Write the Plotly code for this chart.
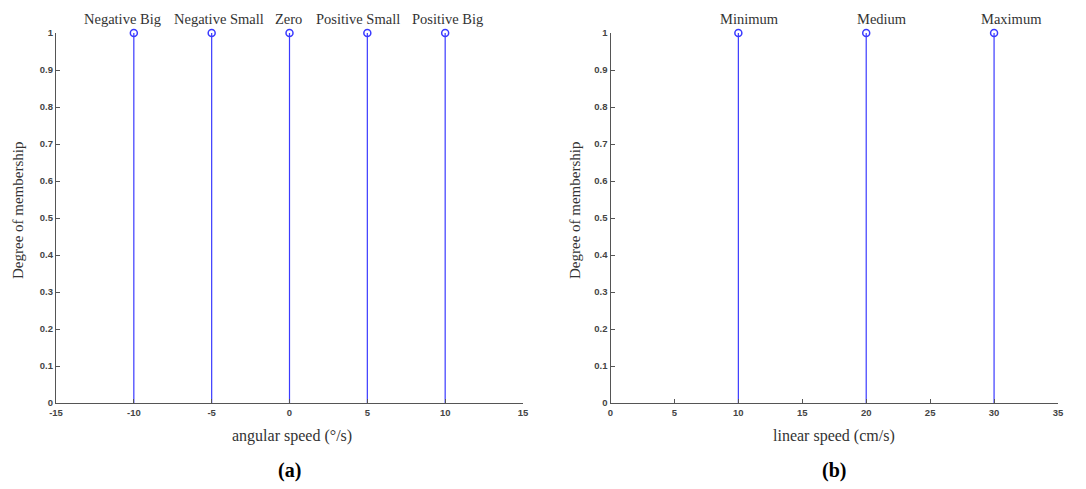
import plotly.graph_objects as go

# Membership singletons for the two fuzzy inputs
angular_sets = ["Negative Big", "Negative Small", "Zero", "Positive Small", "Positive Big"]
angular_centers = [-10, -5, 0, 5, 10]
angular_degree = [1, 1, 1, 1, 1]

linear_sets = ["Minimum", "Medium", "Maximum"]
linear_centers = [10, 20, 30]
linear_degree = [1, 1, 1]

y_ticks = [0, 0.1, 0.2, 0.3, 0.4, 0.5, 0.6, 0.7, 0.8, 0.9, 1]
y_tick_text = ["0", "0.1", "0.2", "0.3", "0.4", "0.5", "0.6", "0.7", "0.8", "0.9", "1"]
angular_ticks = [-15, -10, -5, 0, 5, 10, 15]
angular_tick_text = ["-15", "-10", "-5", "0", "5", "10", "15"]
linear_ticks = [0, 5, 10, 15, 20, 25, 30, 35]

# horizontal nudges (px) for the set names so neighbours do not collide
angular_label_shift = [-11, 7.5, -1, -9, 2]
linear_label_shift = [11, 15.5, 17]

W, H = 1086, 489
STEM = "#3a3aff"
AXIS = "#555555"
TICKFONT = dict(family="Liberation Sans", size=9.5, color="#444444", weight="bold")
SERIF = "Liberation Serif"


def stem_traces(xs, ys, xa, ya):
    lx, ly = [], []
    for x, y in zip(xs, ys):
        lx += [x, x, None]
        ly += [0, y, None]
    line = go.Scatter(x=lx, y=ly, mode="lines", xaxis=xa, yaxis=ya,
                      line=dict(color=STEM, width=1.2), hoverinfo="skip",
                      showlegend=False)
    heads = go.Scatter(x=xs, y=ys, mode="markers", xaxis=xa, yaxis=ya,
                       marker=dict(symbol="circle-open", size=7,
                                   color=STEM, line=dict(width=1.5, color=STEM)),
                       showlegend=False, cliponaxis=False)
    return [line, heads]


fig = go.Figure()
for t in stem_traces(angular_centers, angular_degree, "x", "y"):
    fig.add_trace(t)
for t in stem_traces(linear_centers, linear_degree, "x2", "y2"):
    fig.add_trace(t)

label_font = dict(family=SERIF, size=14.5, color="#333333")
for name, x, y, dx in zip(angular_sets, angular_centers, angular_degree, angular_label_shift):
    fig.add_annotation(x=x, y=y, xref="x", yref="y", text=name, showarrow=False,
                       xanchor="center", yanchor="bottom", xshift=dx, yshift=4,
                       font=label_font)
for name, x, y, dx in zip(linear_sets, linear_centers, linear_degree, linear_label_shift):
    fig.add_annotation(x=x, y=y, xref="x2", yref="y2", text=name, showarrow=False,
                       xanchor="center", yanchor="bottom", xshift=dx, yshift=4,
                       font=label_font)

y_bot = (H - 403) / H
y_top = (H - 33) / H
dom_a = [56 / W, 523 / W]
dom_b = [610.5 / W, 1058 / W]

axis_common = dict(showgrid=False, zeroline=False, showline=True,
                   linecolor=AXIS, linewidth=1.2, ticks="inside", ticklen=4,
                   tickcolor=AXIS, tickfont=TICKFONT, mirror=False,
                   automargin=False)

fig.update_layout(
    width=W, height=H,
    margin=dict(l=0, r=0, t=0, b=0),
    paper_bgcolor="white", plot_bgcolor="white",
    xaxis=dict(domain=dom_a, range=[-15, 15], tickvals=angular_ticks,
               ticktext=angular_tick_text, anchor="y", **axis_common),
    yaxis=dict(domain=[y_bot, y_top], range=[0, 1], tickvals=y_ticks,
               ticktext=y_tick_text, anchor="x", **axis_common),
    xaxis2=dict(domain=dom_b, range=[0, 35], tickvals=linear_ticks,
                anchor="y2", **axis_common),
    yaxis2=dict(domain=[y_bot, y_top], range=[0, 1], tickvals=y_ticks,
                ticktext=y_tick_text, anchor="x2", **axis_common),
)

title_font = dict(family=SERIF, size=16, color="#333333")
ytitle_font = dict(family=SERIF, size=15, color="#333333")
notes = [
    dict(x=292 / W, y=1 - 436 / H, text="angular speed (°/s)", font=title_font),
    dict(x=834 / W, y=1 - 436 / H, text="linear speed (cm/s)", font=title_font),
    dict(x=18 / W, y=1 - 211 / H, text="Degree of membership", font=ytitle_font,
         textangle=-90),
    dict(x=575 / W, y=1 - 211 / H, text="Degree of membership", font=ytitle_font,
         textangle=-90),
    dict(x=289.5 / W, y=1 - 470 / H, text="<b>(a)</b>",
         font=dict(family=SERIF, size=20, color="#000000")),
    dict(x=834 / W, y=1 - 470 / H, text="<b>(b)</b>",
         font=dict(family=SERIF, size=20, color="#000000")),
]
for n in notes:
    fig.add_annotation(xref="paper", yref="paper", showarrow=False,
                       xanchor="center", yanchor="middle", **n)

fig.write_html("out.html")
